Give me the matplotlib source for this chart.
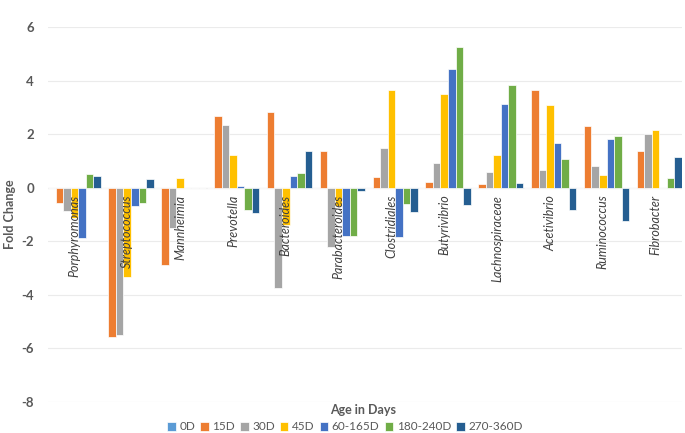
import matplotlib
matplotlib.use("Agg")
import matplotlib.pyplot as plt
import numpy as np

categories = ["Porphyromonas", "Streptococcus", "Mannheimia", "Prevotella", "Bacteroides",
              "Parabacteroides", "Clostridiales", "Butyrivibrio", "Lachnospiraceae",
              "Acetivibrio", "Ruminococcus", "Fibrobacter"]
series_names = ["0D", "15D", "30D", "45D", "60-165D", "180-240D", "270-360D"]
d0 = [0, 0, 0, 0, 0, 0, 0, 0, 0, 0, 0, 0]
d15 = [-0.57, -5.56, -2.87, 2.69, 2.81, 1.38, 0.40, 0.20, 0.15, 3.66, 2.31, 1.36]
d30 = [-0.88, -5.51, -1.50, 2.35, -3.74, -2.22, 1.48, 0.94, 0.59, 0.66, 0.81, 1.99]
d45 = [-1.13, -3.33, 0.36, 1.23, -1.38, -0.70, 3.64, 3.51, 1.22, 3.09, 0.47, 2.16]
d60_165 = [-1.89, -0.70, 0, 0.05, 0.44, -1.80, -1.84, 4.44, 3.12, 1.67, 1.83, -0.02]
d180_240 = [0.52, -0.58, 0, -0.82, 0.55, -1.81, -0.60, 5.27, 3.83, 1.06, 1.94, 0.37]
d270_360 = [0.45, 0.32, 0, -0.94, 1.38, -0.14, -0.91, -0.63, 0.19, -0.82, -1.26, 1.15]
series_values = [d0, d15, d30, d45, d60_165, d180_240, d270_360]
colors = ["#5B9BD5", "#ED7D31", "#A5A5A5", "#FFC000", "#4472C4", "#70AD47", "#255E91"]
yticks = [-8, -6, -4, -2, 0, 2, 4, 6]

plt.rcParams['font.family'] = ['Lato', 'DejaVu Sans']
W, H = 685, 433
fig = plt.figure(figsize=(W / 100, H / 100), dpi=100)
ax = fig.add_axes([48 / W, 1 - 402 / H, 634 / W, 375 / H])

x = np.arange(len(categories))
width = 0.142
for i, (name, vals, c) in enumerate(zip(series_names, series_values, colors)):
    ax.bar(x + (i - 3) * width, vals, width, color=c, label=name,
           edgecolor='white', linewidth=0.5, zorder=2)

ax.set_xlim(-0.5, len(categories) - 0.5)
ax.set_ylim(-8, 6)
ax.set_yticks(yticks)
ax.set_yticklabels([str(t) for t in yticks], fontsize=9.5, fontweight='bold', color='#595959')
ax.tick_params(axis='y', length=0, pad=10)
ax.set_xticks([])
ax.grid(axis='y', color='#EBEBEB', linewidth=0.8, zorder=0)
ax.axhline(0, color='#D9D9D9', linewidth=0.8, zorder=1)
for s in ax.spines.values():
    s.set_visible(False)

for xi, lab in zip(x, categories):
    ax.annotate(lab, xy=(xi, 0), xytext=(0, -5), textcoords='offset points',
                rotation=90, ha='center', va='top', fontsize=9, fontstyle='italic',
                color='#404040', zorder=5)

fig.text(10 / W, 1 - 214 / H, 'Fold Change', rotation=90, ha='center', va='center',
         fontsize=9, fontweight='bold', color='#595959')
fig.text(363 / W, 1 - 410 / H, 'Age in Days', ha='center', va='center',
         fontsize=9, fontweight='bold', color='#595959')

leg = fig.legend(loc='center', bbox_to_anchor=(345 / W, 1 - 427 / H), ncol=7,
                 frameon=False, fontsize=8.5, handlelength=0.7, handleheight=0.7,
                 handletextpad=0.3, columnspacing=0.45, labelcolor='#595959',
                 borderaxespad=0, borderpad=0)
for h in leg.legend_handles:
    h.set_edgecolor('white')

fig.savefig('out.png', dpi=100)
